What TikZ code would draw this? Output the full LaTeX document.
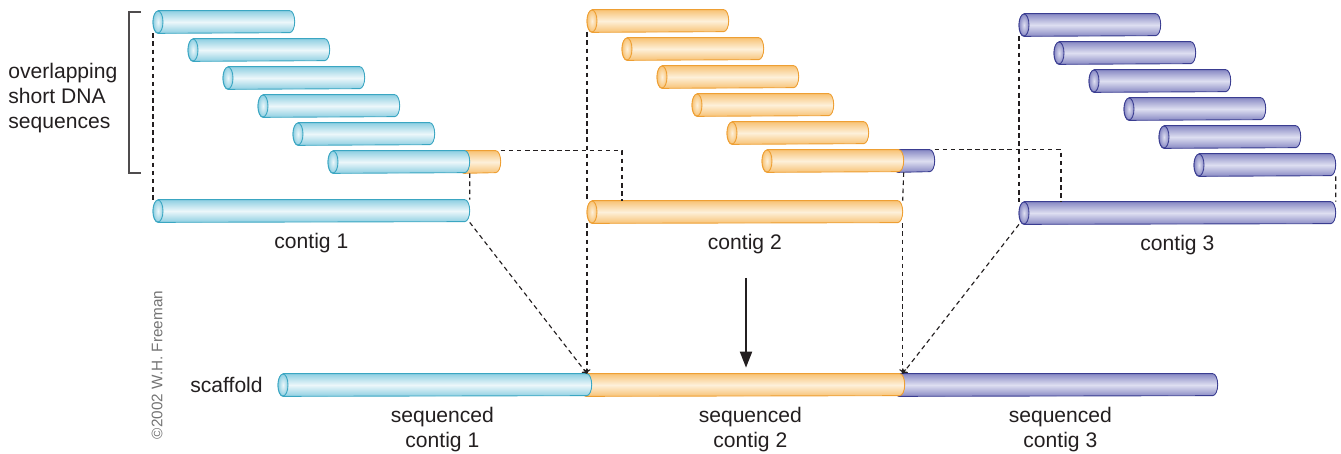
\documentclass[tikz,border=0pt]{standalone}
\usepackage{fontspec}
\setmainfont{Liberation Sans}
\usetikzlibrary{positioning,arrows.meta,calc}
\definecolor{txt}{HTML}{231F20}
\definecolor{bluF}{HTML}{8ECFE2}
\definecolor{bluL}{HTML}{ECF7FA}
\definecolor{bluD}{HTML}{3AA6C2}
\definecolor{oraF}{HTML}{F8C375}
\definecolor{oraL}{HTML}{FDF0DA}
\definecolor{oraD}{HTML}{EE9F33}
\definecolor{purF}{HTML}{8889C4}
\definecolor{purL}{HTML}{DEDFF1}
\definecolor{purD}{HTML}{3A3D91}
\tikzset{
  seg/.style={inner sep=0pt, minimum height=4.4mm, anchor=west},
  guide/.style={draw=txt, line width=0.65pt, dash pattern=on 2.6pt off 2pt},
  joinarrow/.style={guide, -{To[length=0.9mm,width=1.4mm]}},
  bigarrow/.style={draw=txt, line width=1.1pt, -{Triangle[length=3.2mm,width=2.4mm]}},
  brk/.style={draw=txt!80, line width=0.6pt},
  lab/.style={font=\fontsize{12}{14.2}\selectfont, text=txt, inner sep=0pt, align=center},
}
% #1 colour prefix, #2 name, #3 left x, #4 centre y, #5 length (px)
\newcommand{\dnatube}[5]{%
  \node[seg, minimum width=#5*0.2mm] (#2) at ({#3},{#4}) {};
  \path[top color=#1F, bottom color=#1F, middle color=#1L, draw=#1D, line width=0.5pt]
    ([xshift=1mm]#2.north west) -- ([xshift=-1mm]#2.north east)
    arc[start angle=90, end angle=-90, x radius=1mm, y radius=2.2mm]
    -- ([xshift=1mm]#2.south west)
    arc[start angle=270, end angle=90, x radius=1mm, y radius=2.2mm] -- cycle;
  \path[inner color=#1L, outer color=#1F, draw=#1D, line width=0.5pt]
    ([xshift=1mm]#2.west) ellipse[x radius=1mm, y radius=2.2mm];
}

\begin{document}
\begin{tikzpicture}[x=0.2mm, y=-0.2mm]
  \useasboundingbox (0,0) rectangle (1341,454);
  % reads and contigs
  \dnatube{ora}{t1}{459}{162}{41}
  \foreach \i in {0,...,5} {\dnatube{blu}{b\i}{153+35*\i}{22+28*\i}{141}}
  \dnatube{blu}{c1}{153}{211}{316}
  \dnatube{pur}{t2}{893}{161}{41}
  \foreach \i in {0,...,5} {\dnatube{ora}{o\i}{587+35*\i}{21+28*\i}{141}}
  \dnatube{ora}{c2}{587}{212}{315}
  \foreach \i in {0,...,5} {\dnatube{pur}{p\i}{1019+35*\i}{25+28*\i}{141}}
  \dnatube{pur}{c3}{1019}{213}{316}
  % scaffold
  \dnatube{pur}{sp}{894}{385}{323}
  \dnatube{ora}{so}{581}{385}{323}
  \dnatube{blu}{sb}{278}{385}{313}
  \coordinate (j1) at (c2.south west |- sb.north);
  \coordinate (j2) at (c2.south east |- so.north);
  % guide lines
  \draw[guide] (b0.south west) -- (c1.north west);
  \draw[guide] (b5.south east) -- (c1.north east);
  \draw[guide] (t1.north east) -| ([xshift=7mm]c2.north west);
  \draw[guide] (o0.south west) -- (c2.north west);
  \draw[guide] (o5.south east) -- (c2.north east);
  \draw[guide] (t2.north east) -| ([xshift=8.4mm]c3.north west);
  \draw[guide] (p0.south west) -- (c3.north west);
  \draw[guide] (p5.south east) -- (c3.north east);
  \draw[joinarrow] (c1.south east) -- (j1);
  \draw[joinarrow] (c2.south west) -- (j1);
  \draw[joinarrow] (c2.south east) -- (j2);
  \draw[joinarrow] (c3.south west) -- (j2);
  \coordinate (dn) at (746,278);
  \draw[bigarrow] (dn) -- ([yshift=1.2mm]dn |- so.north);
  % labels
  \node[lab, below=2.2mm of c1] (c1lab) {contig 1};
  \node[lab, below=2.2mm of c2] (c2lab) {contig 2};
  \node[lab, below=2.2mm of c3] (c3lab) {contig 3};
  \node[lab, below=2.2mm of sb, xshift=1.5mm] (sblab) {sequenced\\contig 1};
  \node[lab, below=2.2mm of so, xshift=1.5mm] (solab) {sequenced\\contig 2};
  \node[lab, below=2.2mm of sp, xshift=0.9mm] (splab) {sequenced\\contig 3};
  \node[lab, left=3mm of sb] (scf) {scaffold};
  \node[lab, anchor=west, align=left] (ovl) at (8,98) {overlapping\\short DNA\\sequences};
  \draw[brk] (141,12) -| (129,173) -- (141,173);
  \node[font=\fontsize{8.7}{10}\selectfont, text=black!55, rotate=90, inner sep=0pt] (cpr) at (157,365) {\textcopyright2002 W.H. Freeman};
\end{tikzpicture}
\end{document}
